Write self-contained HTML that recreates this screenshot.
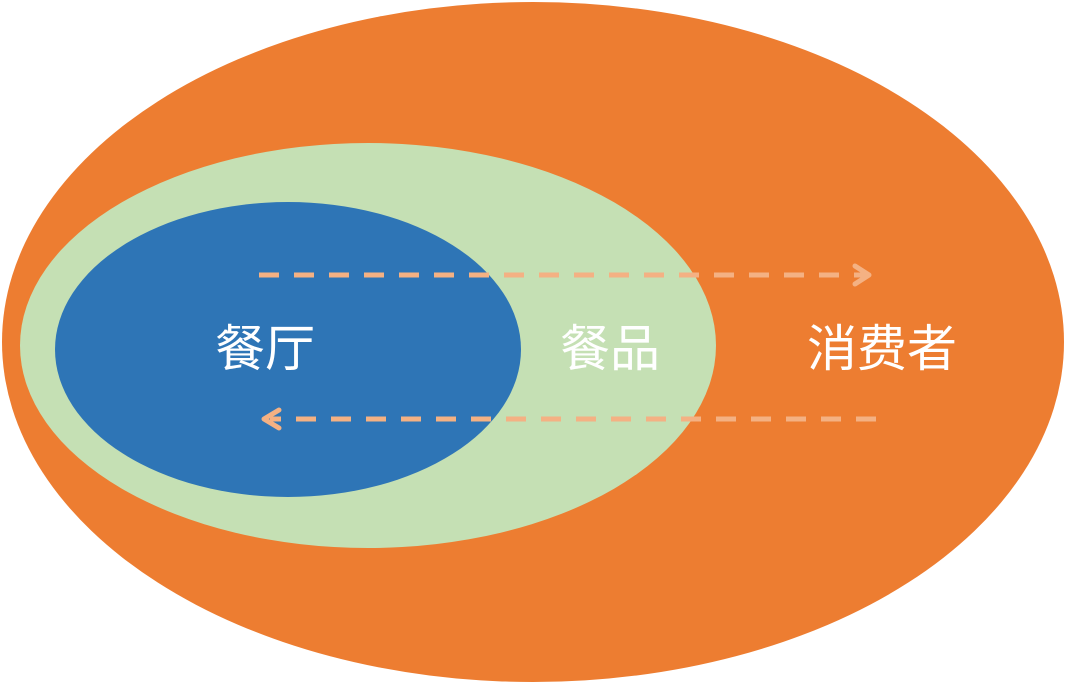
<!DOCTYPE html>
<html><head><meta charset="utf-8"><style>
html,body{margin:0;padding:0;background:#fff;}
svg{display:block;}
text{font-family:"Liberation Sans","Noto Sans CJK SC",sans-serif;font-size:50px;fill:#fff;}
</style></head><body>
<svg width="1066" height="684" viewBox="0 0 1066 684">
<ellipse cx="533" cy="342" rx="531" ry="340" fill="#ed7d31"/>
<ellipse cx="368" cy="345.5" rx="348" ry="202.5" fill="#c5e0b4"/>
<ellipse cx="288" cy="349.5" rx="233" ry="147.5" fill="#2e75b6"/>
<g stroke="#f4b183" stroke-width="5" fill="none">
<line x1="259" y1="275" x2="866" y2="275" stroke-dasharray="20 15"/>
<polyline points="855,266 869,275 855,284" stroke-linecap="round" stroke-linejoin="round"/>
<line x1="876" y1="419" x2="270" y2="419" stroke-dasharray="20 15"/>
<polyline points="279,410 264,419 279,428" stroke-linecap="round" stroke-linejoin="round"/>
</g>
<text x="265" y="366" text-anchor="middle">餐厅</text>
<text x="610" y="366" text-anchor="middle">餐品</text>
<text x="882" y="366" text-anchor="middle">消费者</text>
</svg>
</body></html>
